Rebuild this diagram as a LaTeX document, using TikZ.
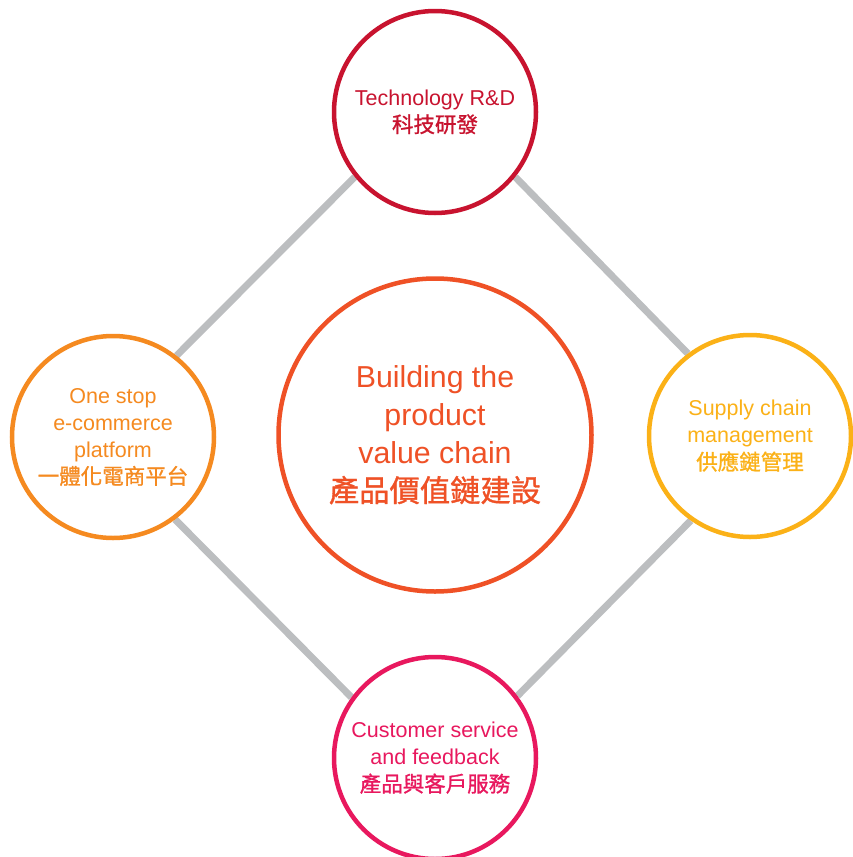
\documentclass[tikz,border=0pt]{standalone}
\usepackage{fontspec}
\usetikzlibrary{backgrounds}
\setmainfont{Liberation Sans}
\newfontfamily\cjk{Noto Sans CJK TC}[FakeBold=1.1]
\definecolor{cRed}{HTML}{C8132F}
\definecolor{cCenter}{HTML}{EF5126}
\definecolor{cOrange}{HTML}{F58A20}
\definecolor{cYellow}{HTML}{FBB117}
\definecolor{cPink}{HTML}{E8185E}
\definecolor{cGray}{HTML}{BCBEC0}
\tikzset{
  outer/.style={circle, draw, line width=4.5pt, fill=white, minimum size=202pt, inner sep=0pt, align=center, font=\fontsize{21.5}{27}\selectfont},
  inner/.style={circle, draw, line width=4.5pt, fill=white, minimum size=313pt, inner sep=0pt, align=center, font=\fontsize{30.3}{38}\selectfont},
  link/.style={cGray, line width=7pt}
}
\begin{document}
\begin{tikzpicture}[x=1pt,y=-1pt]
\useasboundingbox (0,0) rectangle (853,857);
\node[outer, draw=cRed, text=cRed] (tech) at (435,112) {Technology R\&D\\{\cjk 科技研發}};
\node[outer, draw=cOrange, text=cOrange] (shop) at (113,437) {One stop\\e-commerce\\platform\\{\cjk 一體化電商平台}};
\node[outer, draw=cYellow, text=cYellow] (supply) at (750,436) {Supply chain\\management\\{\cjk 供應鏈管理}};
\node[outer, draw=cPink, text=cPink] (cust) at (435,758) {Customer service\\and feedback\\{\cjk 產品與客戶服務}};
\node[inner, draw=cCenter, text=cCenter] (core) at (435,435) {Building the\\product\\value chain\\{\cjk 產品價值鏈建設}};
\begin{scope}[on background layer]
\draw[link] (tech.219) -- (shop.52);
\draw[link] (tech.321) -- (supply.127);
\draw[link] (supply.235) -- (cust.37);
\draw[link] (cust.144) -- (shop.307);
\end{scope}
\end{tikzpicture}
\end{document}
